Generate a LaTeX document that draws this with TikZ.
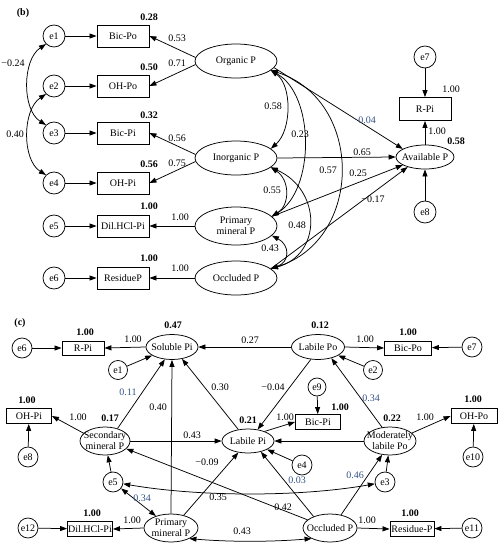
\documentclass[tikz,border=0pt]{standalone}
\usepackage{fontspec}
\setmainfont{Liberation Serif}
\usetikzlibrary{arrows.meta,shapes.geometric}
\definecolor{nsblue}{RGB}{52,82,135}
\begin{document}
\begin{tikzpicture}[x=1pt,y=-1pt,
  every node/.style={font=\fontsize{10}{11}\selectfont, inner sep=0pt},
  arr/.style={-{Triangle[length=7pt,width=5pt]}, line width=0.75pt},
  darr/.style={{Triangle[length=7pt,width=5pt]}-{Triangle[length=7pt,width=5pt]}, line width=0.75pt},
  ecirc/.style={circle, draw, line width=0.75pt, minimum size=#1},
  obs/.style 2 args={rectangle, draw, line width=0.9pt, minimum width=#1, minimum height=#2},
  lat/.style 2 args={ellipse, draw, line width=0.75pt, minimum width=#1, minimum height=#2},
  rsq/.style={font=\fontsize{10}{11}\selectfont\bfseries},
  ns/.style={text=nsblue},
  two/.style={align=center}
]
\useasboundingbox (0,0) rectangle (504,550);

% ===================== (b) =====================
\node[rsq] (lb) at (23,13) {(b)};

\node[ecirc=22] (e1) at (54,36) {e1};
\node[ecirc=22] (e2) at (54,86) {e2};
\node[ecirc=22] (e3) at (54,133) {e3};
\node[ecirc=22] (e4) at (54,183) {e4};
\node[ecirc=22] (e5) at (54,226) {e5};
\node[ecirc=22] (e6) at (54,278) {e6};

\node[obs={52}{22}] (bicpo) at (123,36) {Bic-Po};
\node[obs={52}{22}] (ohpo) at (123,86) {OH-Po};
\node[obs={52}{22}] (bicpi) at (123,133) {Bic-Pi};
\node[obs={52}{22}] (ohpi) at (123,183) {OH-Pi};
\node[obs={52}{22}] (dil) at (123,226) {Dil.HCl-Pi};
\node[obs={52}{22}] (res) at (123,278) {ResidueP};

\node[rsq] (r1) at (149,17) {0.28};
\node[rsq] (r2) at (149,67) {0.50};
\node[rsq] (r3) at (149,115) {0.32};
\node[rsq] (r4) at (149,164) {0.56};
\node[rsq] (r5) at (149,206) {1.00};
\node[rsq] (r6) at (149,258) {1.00};

\node[lat={82}{34}] (org) at (236,61) {};
\node (orgt) at (org) {Organic P};
\node[lat={82}{34}] (inorg) at (236,158) {};
\node (inorgt) at (inorg) {Inorganic P};
\node[lat={82}{38}] (prim) at (236,226) {};
\node[two] (primt) at (prim) {Primary\\mineral P};
\node[lat={82}{34}] (occl) at (236,278) {};
\node (occlt) at (occl) {Occluded P};

\node[lat={58}{24}] (avail) at (425,157) {};
\node (availt) at (avail) {Available P};
\node[obs={52}{23}] (rpi) at (425,109) {R-Pi};
\node[ecirc=22] (e7) at (425,57) {e7};
\node[ecirc=22] (e8) at (425,212) {e8};

% error arrows
\draw[arr] (e1) -- (bicpo);
\draw[arr] (e2) -- (ohpo);
\draw[arr] (e3) -- (bicpi);
\draw[arr] (e4) -- (ohpi);
\draw[arr] (e5) -- (dil);
\draw[arr] (e6) -- (res);
\draw[arr] (e7) -- (rpi);
\draw[arr] (e8) -- (avail);
\draw[arr] (avail) -- (rpi);

% error covariances
\draw[darr] (e1.225) .. controls (22,60) and (22,110) .. (e3.135);
\draw[darr] (e2.225) .. controls (22,110) and (22,160) .. (e4.135);
\node (c1) at (13,63) {−0.24};
\node (c2) at (15,134) {0.40};

% loadings
\draw[arr] (org.175) -- (bicpo.east);
\draw[arr] (org.185) -- (ohpo.east);
\draw[arr] (inorg.175) -- (bicpi.east);
\draw[arr] (inorg.185) -- (ohpi.east);
\draw[arr] (prim.west) -- (dil.east);
\draw[arr] (occl.west) -- (res.east);
\node (l1) at (177,38) {0.53};
\node (l2) at (177,63) {0.71};
\node (l3) at (177,138) {0.56};
\node (l4) at (177,163) {0.75};
\node (l5) at (180,217) {1.00};
\node (l6) at (180,268) {1.00};

% latent covariances
\draw[darr] (org.-15) .. controls (292,85) and (292,130) .. (inorg.15);
\draw[darr] (org.-15) .. controls (315,95) and (315,190) .. (prim.15);
\draw[darr] (org.-15) .. controls (364,100) and (364,240) .. (occl.15);
\draw[darr] (inorg.-15) .. controls (290,180) and (290,205) .. (prim.15);
\draw[darr] (inorg.-15) .. controls (322,190) and (322,255) .. (occl.15);
\draw[darr] (prim.-15) .. controls (290,245) and (290,262) .. (occl.15);
\node (k1) at (273,106) {0.58};
\node (k2) at (300,134) {0.23};
\node (k3) at (328,170) {0.57};
\node (k4) at (272,190) {0.55};
\node (k5) at (297,225) {0.48};
\node (k6) at (270,248) {0.43};

% paths to Available P
\draw[arr] (org.-10) -- (avail.160);
\draw[arr] (inorg.east) -- (avail.west);
\draw[arr] (prim.15) -- (avail.200);
\draw[arr] (occl.15) -- (avail.210);
\node[ns] (p1) at (367,120) {0.04};
\node (p2) at (362,152) {0.65};
\node (p3) at (358,173) {0.25};
\node (p4) at (373,199) {−0.17};
\node[rsq] (ra) at (456,141) {0.58};
\node (la) at (437,131) {1.00};
\node (lr) at (451,89) {1.00};

% ===================== (c) =====================
\node[rsq] (lc) at (20,323) {(c)};

\node[ecirc=20] (ce6) at (22,348) {e6};
\node[obs={42}{14}] (crpi) at (83,348) {R-Pi};
\node[lat={52}{25}] (sol) at (172,347) {};
\node (solt) at (sol) {Soluble Pi};
\node[ecirc=19] (ce1) at (118,370) {e1};
\node[lat={53}{25}] (labpo) at (318,347) {};
\node (labpot) at (labpo) {Labile Po};
\node[ecirc=19] (ce2) at (373,370) {e2};
\node[obs={47}{14}] (cbicpo) at (408,348) {Bic-Po};
\node[ecirc=20] (ce7) at (472,347) {e7};

\node[obs={45}{15}] (cohpi) at (29,416) {OH-Pi};
\node[ecirc=20] (ce8) at (28,457) {e8};
\node[lat={50}{28}] (sec) at (105,441) {};
\node[two] (sect) at (sec) {Secondary\\mineral P};
\node[ecirc=20] (ce5) at (113,482) {e5};
\node[lat={52}{24}] (labpi) at (248,441) {};
\node (labpit) at (labpi) {Labile Pi};
\node[ecirc=18] (ce9) at (317,387) {e9};
\node[obs={45}{15}] (cbicpi) at (318,422) {Bic-Pi};
\node[ecirc=20] (ce4) at (302,465) {e4};
\node[lat={52}{28}] (mod) at (390,441) {};
\node[two] (modt) at (mod) {Moderately\\labile Po};
\node[ecirc=20] (ce3) at (385,482) {e3};
\node[obs={46}{15}] (cohpo) at (474,416) {OH-Po};
\node[ecirc=20] (ce10) at (473,457) {e10};

\node[ecirc=20] (ce12) at (28,528) {e12};
\node[obs={45}{15}] (cdil) at (90,529) {Dil.HCl-Pi};
\node[lat={54}{28}] (prim2) at (171,528) {};
\node[two] (prim2t) at (prim2) {Primary\\mineral P};
\node[lat={54}{28}] (occ2) at (330,528) {};
\node (occ2t) at (occ2) {Occluded P};
\node[obs={44}{15}] (cres) at (412,529) {Residue-P};
\node[ecirc=20] (ce11) at (472,528) {e11};

% R squared
\node[rsq] (s1) at (85,332) {1.00};
\node[rsq] (s2) at (173,325) {0.47};
\node[rsq] (s3) at (320,325) {0.12};
\node[rsq] (s4) at (408,332) {1.00};
\node[rsq] (s5) at (27,400) {1.00};
\node[rsq] (s6) at (110,418) {0.17};
\node[rsq] (s7) at (248,420) {0.21};
\node[rsq] (s8) at (340,407) {1.00};
\node[rsq] (s9) at (392,418) {0.22};
\node[rsq] (s10) at (473,399) {1.00};
\node[rsq] (s11) at (92,513) {1.00};
\node[rsq] (s12) at (410,513) {1.00};

% error arrows
\draw[arr] (ce6) -- (crpi);
\draw[arr] (ce1) -- (sol);
\draw[arr] (ce2) -- (labpo);
\draw[arr] (ce7) -- (cbicpo);
\draw[arr] (ce8) -- (cohpi);
\draw[arr] (ce5) -- (sec);
\draw[arr] (ce9) -- (cbicpi);
\draw[arr] (ce4) -- (labpi);
\draw[arr] (ce3) -- (mod);
\draw[arr] (ce10) -- (cohpo);
\draw[arr] (ce12) -- (cdil);
\draw[arr] (ce11) -- (cres);

% loadings
\draw[arr] (sol.west) -- (crpi.east);
\draw[arr] (labpo.east) -- (cbicpo.west);
\draw[arr] (sec.160) -- (cohpi.east);
\draw[arr] (labpi.30) -- (cbicpi.west);
\draw[arr] (mod.20) -- (cohpo.west);
\draw[arr] (prim2.west) -- (cdil.east);
\draw[arr] (occ2.east) -- (cres.west);
\node (m1) at (133,339) {1.00};
\node (m2) at (365,339) {1.00};
\node (m3) at (78,417) {1.00};
\node (m4) at (285,417) {1.00};
\node (m5) at (425,417) {1.00};
\node (m6) at (132,520) {1.00};
\node (m7) at (367,520) {1.00};

% structural paths
\draw[arr] (labpo.west) -- (sol.east);
\draw[arr] (sec.45) -- (sol.240);
\draw[arr] (prim2.north) -- (sol.south);
\draw[arr] (labpi.130) -- (sol.-50);
\draw[arr] (labpo.240) -- (labpi.50);
\draw[arr] (mod.120) -- (labpo.-40);
\draw[arr] (sec.east) -- (labpi.west);
\draw[arr] (mod.west) -- (labpi.east);
\draw[arr] (prim2.45) -- (labpi.-130);
\draw[arr] (occ2.145) -- (labpi.-40);
\draw[arr] (occ2.160) -- (sec.-20);
\draw[arr] (occ2.50) -- (mod.-120);
\draw[darr] (ce5) -- (prim2);
\draw[darr] (ce5.-10) .. controls (200,497) and (300,497) .. (ce3.190);
\draw[darr] (prim2.-30) .. controls (230,542) and (270,542) .. (occ2.210);

\node (n1) at (250,340) {0.27};
\node[ns] (n2) at (128,392) {0.11};
\node (n3) at (158,407) {0.40};
\node (n4) at (220,387) {0.30};
\node (n5) at (273,387) {−0.04};
\node[ns] (n6) at (371,398) {0.34};
\node (n7) at (192,435) {0.43};
\node (n8) at (207,462) {−0.09};
\node[ns] (n9) at (297,480) {0.03};
\node[ns] (n10) at (355,475) {0.46};
\node[ns] (n11) at (142,498) {0.34};
\node (n12) at (218,497) {0.35};
\node (n13) at (283,507) {0.42};
\node (n14) at (242,531) {0.43};
\end{tikzpicture}
\end{document}
